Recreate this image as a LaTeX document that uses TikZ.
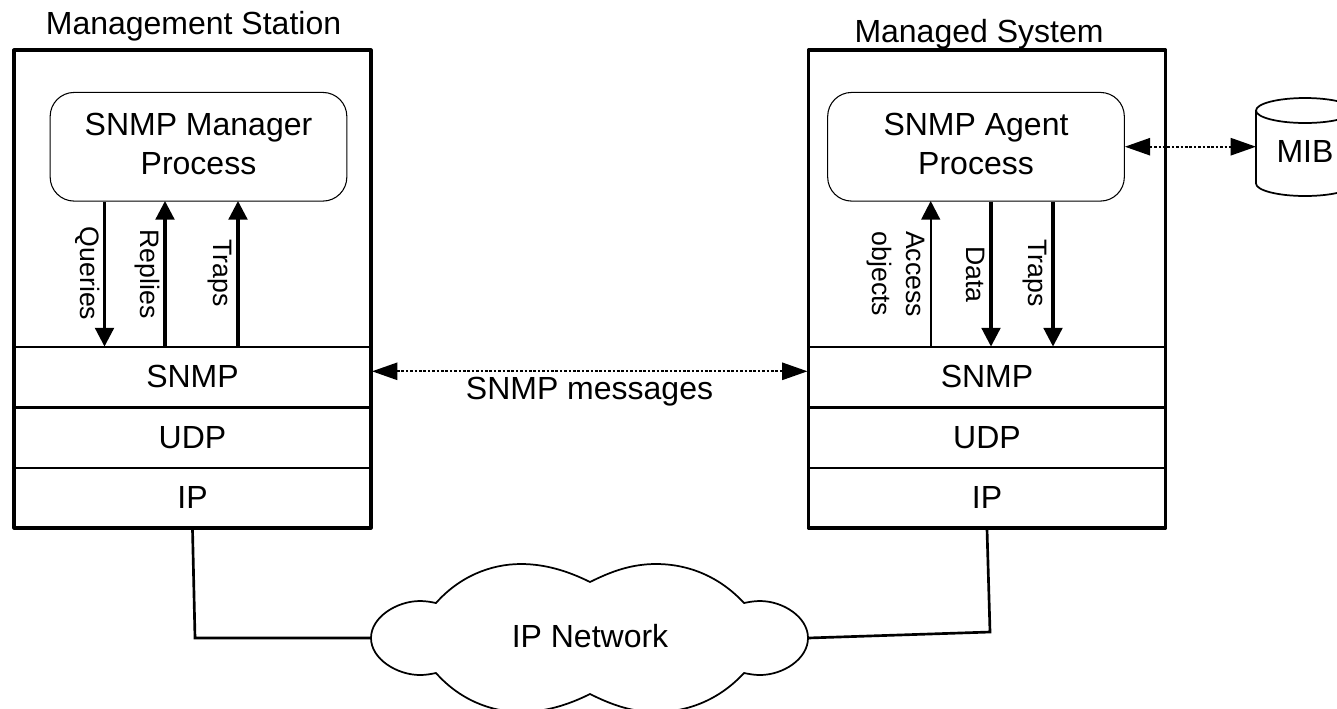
\documentclass[tikz,border=0pt]{standalone}
\usepackage{fontspec}
\setmainfont{Liberation Sans}
\usetikzlibrary{arrows.meta}
\tikzset{
  outerbox/.style={draw=black,line width=2.4pt,line join=round,minimum width=267.75pt,minimum height=358.5pt,inner sep=0pt},
  layerbox/.style={draw=black,line width=1.6pt,minimum width=267.75pt,inner sep=0pt,text height=17.2pt,text depth=1.7pt,font=\fontsize{24}{29.25}\selectfont},
  procbox/.style={draw=black,line width=0.8pt,rounded corners=18pt,minimum width=222.5pt,minimum height=81.5pt,inner sep=0pt,align=center,text depth=4pt,font=\fontsize{24}{29.25}\selectfont},
  bigtext/.style={anchor=base,inner sep=0pt,font=\fontsize{24}{29.25}\selectfont},
  smalltext/.style={anchor=base,inner sep=0pt,rotate=-90,font=\fontsize{20}{24}\selectfont},
  flow/.style={line width=2.3pt,-{Triangle[length=14pt,width=14pt]},shorten >=-0.5pt},
  dotline/.style={line width=1.3pt,dash pattern=on 2pt off 1.3pt,{Triangle[length=19pt,width=13pt]}-{Triangle[length=19pt,width=13pt]}},
  wire/.style={line width=2pt,line join=miter},
  thinshape/.style={draw=black,line width=1.3pt,fill=white}
}
\begin{document}
\begin{tikzpicture}[x=0.75pt,y=-0.75pt]
\useasboundingbox (0,0) rectangle (1337,708);
\begin{scope}
\clip (0,0) rectangle (1337,708);

% Left station
\node[layerbox,minimum height=45.4pt] (snmpL) at (192.5,377.2) {SNMP};
\node[layerbox,minimum height=45.4pt] (udpL) at (192.5,437.8) {UDP};
\node[layerbox,minimum height=45pt] (ipL) at (192.5,498) {IP};
\node[outerbox] (station) at (192.5,289) {};
\node[procbox] (mgr) at (198.5,146.75) {SNMP Manager\\Process};
\node[bigtext] (stationtitle) at (193.5,34) {Management Station};

% Right system
\node[layerbox,minimum height=45.4pt] (snmpR) at (987,377.2) {SNMP};
\node[layerbox,minimum height=45.4pt] (udpR) at (987,437.8) {UDP};
\node[layerbox,minimum height=45pt] (ipR) at (987,498) {IP};
\node[outerbox] (system) at (987,289) {};
\node[procbox] (agent) at (976,146.75) {SNMP Agent\\Process};
\node[bigtext] (systemtitle) at (979,42) {Managed System};

% Vertical flows
\coordinate (q) at (104.5,0);
\coordinate (r) at (165,0);
\coordinate (t) at (238,0);
\coordinate (a) at (930.7,0);
\coordinate (d) at (991,0);
\coordinate (u) at (1053,0);
\draw[flow] (q |- mgr.south) -- (q |- snmpL.north);
\draw[flow] (r |- snmpL.north) -- (r |- mgr.south);
\draw[flow] (t |- snmpL.north) -- (t |- mgr.south);
\draw[flow,line width=1.8pt] (a |- snmpR.north) -- (a |- agent.south);
\draw[flow] (d |- agent.south) -- (d |- snmpR.north);
\draw[flow] (u |- agent.south) -- (u |- snmpR.north);

\node[smalltext] (lq) at (80,273.5) {Queries};
\node[smalltext] (lr) at (140,274) {Replies};
\node[smalltext] (lt) at (213,273) {Traps};
\node[smalltext] (la) at (906,274) {Access};
\node[smalltext] (lo) at (872.7,274) {objects};
\node[smalltext] (ld) at (966,274.5) {Data};
\node[smalltext] (lu) at (1028.3,273) {Traps};

% SNMP messages
\draw[dotline] (snmpL.east |- 0,371.3) -- (snmpR.west |- 0,371.3);
\node[bigtext] (msg) at (589.5,399) {SNMP messages};

% MIB cylinder
\draw[thinshape] (1256,110.5) -- (1256,183.5) arc[start angle=180,end angle=360,x radius=49,y radius=-12.5] -- (1354,110.5);
\draw[thinshape] (1305,110.5) ellipse[x radius=49,y radius=12.5];
\node[bigtext] (mib) at (1305,162.7) {MIB};
\coordinate (mibw) at (1256,146.7);
\draw[dotline] (agent.east |- mibw) -- (mibw);

% Cloud
\coordinate (cloudL) at (371,638);
\coordinate (cloudR) at (808,638);
\draw[thinshape]
  (cloudL) .. controls (371,617) and (397,601) .. (420,601)
  .. controls (426,601) and (431,602) .. (436,603)
  .. controls (459,577) and (490,564) .. (521,564)
  .. controls (545,564) and (568,571) .. (590,582)
  .. controls (612,571) and (632,564) .. (656,564)
  .. controls (689,564) and (720,577) .. (744,603)
  .. controls (749,602) and (754,601) .. (760,601)
  .. controls (783,601) and (808,617) .. (cloudR)
  .. controls (808,659) and (783,675) .. (760,675)
  .. controls (754,675) and (749,674) .. (744,673)
  .. controls (720,699) and (689,712) .. (656,712)
  .. controls (632,712) and (612,705) .. (590,694)
  .. controls (568,705) and (545,712) .. (521,712)
  .. controls (490,712) and (459,699) .. (436,673)
  .. controls (431,674) and (426,675) .. (420,675)
  .. controls (397,675) and (371,659) .. (cloudL) -- cycle;
\node[bigtext] (net) at (590,647.7) {IP Network};

% Wires
\coordinate (bendL) at (195,638);
\coordinate (bendR) at (990,632);
\draw[wire] (ipL.south) -- (bendL) -- (cloudL);
\draw[wire] (ipR.south) -- (bendR) -- (cloudR);
\end{scope}
\end{tikzpicture}
\end{document}
